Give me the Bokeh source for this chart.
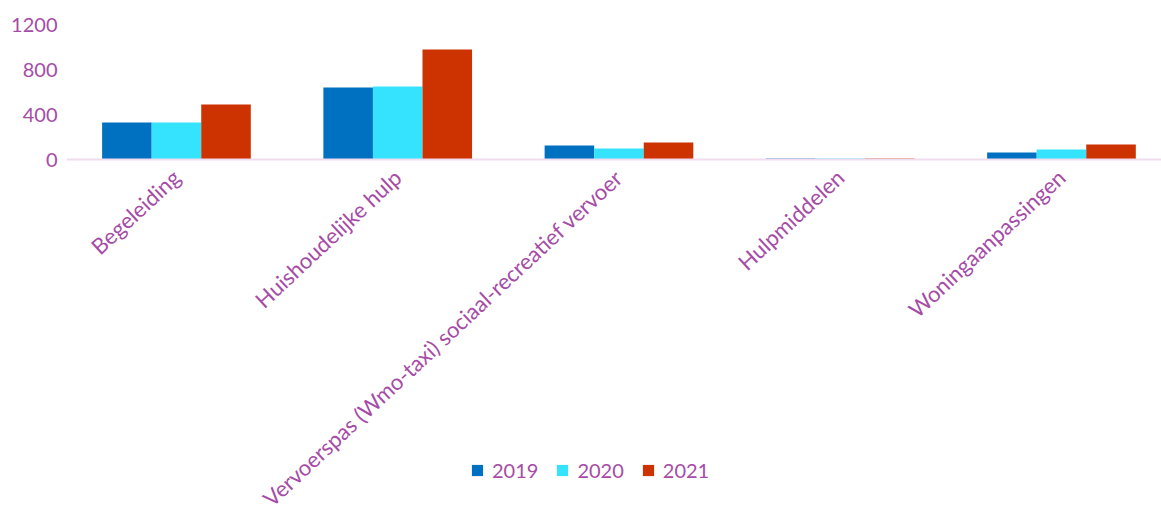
import numpy as np
from bokeh.plotting import figure
from bokeh.models import ColumnDataSource, FixedTicker, Legend, LegendItem, LinearAxis
from bokeh.embed import file_html
from bokeh.resources import INLINE

categories = ["Begeleiding", "Huishoudelijke hulp",
              "Vervoerspas (Wmo-taxi) sociaal-recreatief vervoer",
              "Hulpmiddelen", "Woningaanpassingen"]
years = ["2019", "2020", "2021"]
v2019 = [329, 640, 124, 8, 62]
v2020 = [329, 649, 98, 8, 89]
v2021 = [489, 978, 151, 8, 133]
colors = ["#0070c0", "#35e3ff", "#cc3300"]
y_ticks = [0, 400, 800, 1200]

LABEL = "#a64ca6"
FONT = "Lato"

W, H = 1161, 507
TOP, LEFT = 24, 66
frame_h = H - TOP
value_px = 135  # pixel height of 0..1200
ymin = -1200 * (frame_h - value_px) / value_px
frame_w = W - LEFT
unit_px = 221.25
x0 = -0.497
x1 = x0 + frame_w / unit_px

p = figure(width=W, height=H, output_backend="svg", toolbar_location=None,
           x_range=(x0, x1), y_range=(ymin, 1200),
           x_axis_location=None, y_axis_location=None,
           min_border_top=TOP, min_border_right=0, min_border_left=LEFT,
           min_border_bottom=0)
p.outline_line_color = None
p.xgrid.grid_line_color = None
p.ygrid.grid_line_color = None

xs = np.arange(len(categories))
bw = 0.224
series = [v2019, v2020, v2021]
renderers = []
for i, (vals, c) in enumerate(zip(series, colors)):
    src = ColumnDataSource(dict(x=xs + (i - 1) * bw, top=vals))
    r = p.vbar(x="x", top="top", width=bw, bottom=0, source=src,
               fill_color=c, line_color=None)
    renderers.append(r)

yaxis = LinearAxis(ticker=FixedTicker(ticks=y_ticks))
yaxis.axis_line_color = None
yaxis.major_tick_line_color = None
yaxis.minor_tick_line_color = None
yaxis.major_tick_out = 0
yaxis.major_tick_in = 0
yaxis.major_label_text_color = LABEL
yaxis.major_label_text_font = FONT
yaxis.major_label_text_font_size = "20px"
yaxis.major_label_standoff = 9
p.add_layout(yaxis, "left")

xaxis = LinearAxis(ticker=FixedTicker(ticks=list(range(len(categories)))),
                   fixed_location=0)
xaxis.major_label_overrides = {i: c for i, c in enumerate(categories)}
xaxis.major_label_orientation = 0.75
xaxis.axis_line_color = "#f0dcef"
xaxis.axis_line_width = 2
xaxis.major_tick_line_color = None
xaxis.minor_tick_line_color = None
xaxis.major_tick_out = 0
xaxis.major_tick_in = 0
xaxis.major_label_text_color = LABEL
xaxis.major_label_text_font = FONT
xaxis.major_label_text_font_size = "22px"
xaxis.major_label_standoff = 14
p.add_layout(xaxis, "below")

legend = Legend(items=[LegendItem(label=y, renderers=[r]) for y, r in zip(years, renderers)],
                orientation="horizontal", location=(404, 25),
                glyph_width=14, glyph_height=14, label_standoff=8, spacing=17,
                padding=0, margin=0, border_line_color=None,
                background_fill_alpha=0,
                label_text_color=LABEL, label_text_font=FONT,
                label_text_font_size="20px")
p.add_layout(legend, "center")

open("out.html", "w").write(file_html(p, INLINE))
